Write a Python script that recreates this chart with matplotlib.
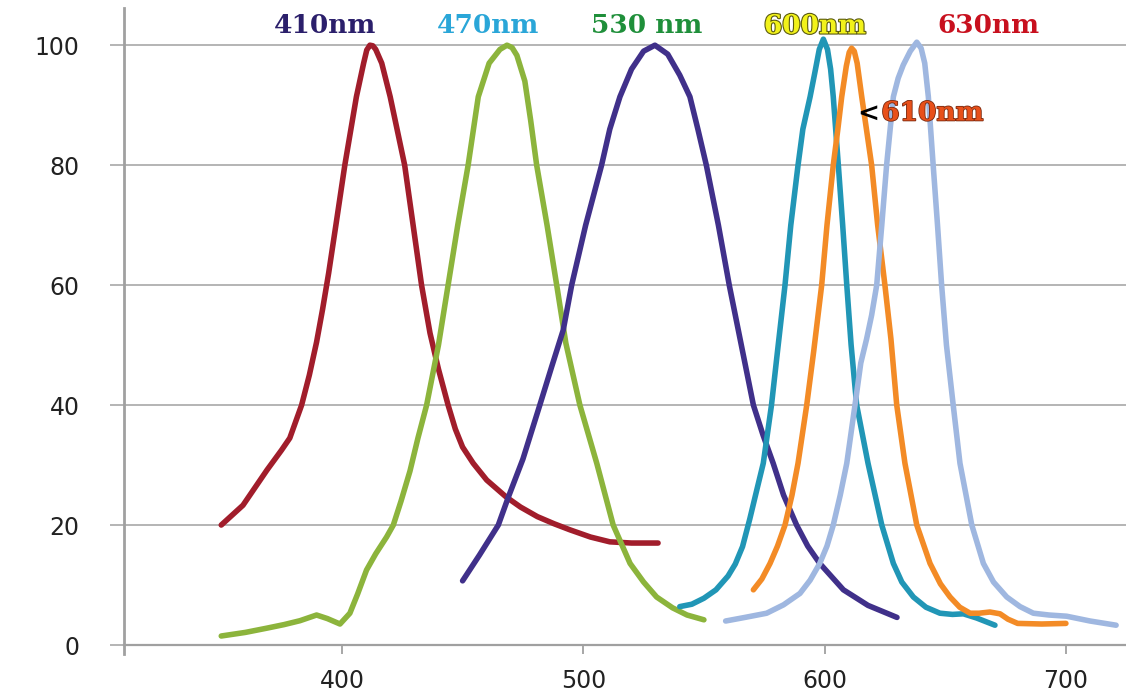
import matplotlib
matplotlib.use("Agg")
import matplotlib.pyplot as plt
import matplotlib.patheffects as pe

# ---- data ----
x_410 = [350, 359, 369, 375, 378.4, 383.3, 386.5, 389.5, 392, 394.5, 397.5, 401.2, 406, 409, 410.3, 411.6,
         412.8, 414, 416.5, 420, 426, 429.5, 433, 436.5, 440, 444, 447, 450, 454.4, 460, 468, 474, 481,
         488, 494.5, 503, 511, 520, 531]
y_410 = [20, 23.3, 29.2, 32.5, 34.5, 40, 45, 50.5, 56, 62, 70, 80, 91.4, 97, 99.2, 100,
         99.9, 99.3, 97, 91.4, 80, 70, 60, 52, 46, 40, 36, 33, 30.3, 27.5, 24.7, 23, 21.4,
         20.2, 19.2, 18, 17.2, 17, 17]

x_470 = [350, 360, 368.8, 376, 382.6, 389.5, 394, 399.2, 403.3, 406.5, 410.2, 414, 418.5, 421.3, 424.5,
         428.2, 431.5, 435.1, 440, 444, 448, 452.3, 456.5, 461, 465.5, 468.4, 470.5, 472.5, 475.8,
         478.2, 480.7, 485, 489, 492.8, 498.6, 505.6, 512.4, 519.4, 525, 530.4, 537, 543, 550]
y_470 = [1.5, 2.1, 2.8, 3.4, 4.05, 5.0, 4.4, 3.5, 5.3, 8.5, 12.5, 15.2, 18, 20, 24,
         29, 34.5, 40, 50, 60, 70, 80, 91.4, 97, 99.3, 100, 99.6, 98.3, 94,
         87.5, 80, 70, 60, 50.3, 40, 30.3, 20, 13.6, 10.5, 8, 6.2, 5.0, 4.2]

x_530 = [450, 457, 464.8, 469, 475, 482, 487, 491.7, 495.2, 501, 507.6, 511, 515.2, 520, 525, 529.7,
         535, 540, 544.2, 547.5, 551, 556, 560.5, 564, 567, 570.5, 574.5, 578.7, 583, 588.4, 593, 598,
         607.8, 618, 630]
y_530 = [10.7, 15, 20, 24.7, 31, 40, 46.5, 52.5, 60, 70, 80, 86, 91.4, 96, 99, 100,
         98.5, 95, 91.4, 86, 80, 70, 60, 53, 47, 40, 35, 30.3, 25, 20, 16.5, 13.6,
         9.2, 6.6, 4.6]

x_600 = [540, 545, 550, 555, 560, 563, 566, 569, 572, 574.6, 578, 580.5, 583.6, 586, 589, 591, 594,
         596, 597.8, 599.5, 601.2, 602.5, 603.6, 605.7, 607.5, 609.2, 611, 613.3, 618, 623.7, 628.5,
         632, 636.8, 642, 647.8, 653, 657.5, 663, 670.6]
y_600 = [6.4, 6.8, 7.8, 9.2, 11.5, 13.5, 16.4, 21, 26, 30.3, 40, 49, 60, 70, 80, 86, 91.4,
         95.5, 99.3, 101, 99.3, 96, 91.4, 80, 70, 60, 50, 40, 30.3, 20, 13.6,
         10.5, 8, 6.3, 5.3, 5.1, 5.2, 4.5, 3.3]

x_610 = [570.5, 574, 577.4, 580.5, 583.6, 586.5, 589, 592.6, 595.5, 598.8, 601, 603.6, 605.5, 607.1,
         609, 610.2, 611.2, 612.3, 613.5, 615.4, 619.5, 622, 625, 627.5, 629.9, 633.3, 638.2, 643.7,
         648, 652, 656, 660.3, 664, 668.5, 672.7, 676, 680, 690, 700]
y_610 = [9.2, 11, 13.6, 16.5, 20, 25, 30.3, 40, 49, 60, 70, 80, 86, 91.4,
         96.5, 98.8, 99.5, 99, 97, 91.4, 80, 70, 60, 51, 40, 30.3, 20, 13.6,
         10.2, 8, 6.3, 5.3, 5.3, 5.5, 5.2, 4.3, 3.6, 3.5, 3.6]

x_630 = [559, 567, 576, 583, 589.8, 594, 598, 601, 603.6, 606.5, 609.2, 612.6, 615, 617.4, 619.5,
         621.6, 623.7, 625.7, 628.5, 630.5, 632.6, 635.5, 638.2, 640, 641.5, 643, 645, 646.8, 648.5,
         650.5, 653.3, 656.1, 661, 665.8, 670, 675.5, 681, 686.5, 693, 700.3, 710, 720.8]
y_630 = [4, 4.6, 5.3, 6.7, 8.6, 10.8, 13.6, 16.5, 20, 25, 30.3, 40, 47, 51, 55,
         60, 70, 80, 91.4, 94.5, 96.7, 99, 100.5, 99.5, 97, 91.4, 80, 70, 60,
         50, 40, 30.3, 20, 13.6, 10.5, 8, 6.4, 5.3, 5, 4.8, 4, 3.3]

x_ticks = [400, 500, 600, 700]
y_ticks = [0, 20, 40, 60, 80, 100]

peak_labels = ["410nm", "470nm", "530 nm", "600nm", "630nm"]
peak_label_x = [393, 460.5, 526.4, 596, 667.7]
peak_label_colors = ["#2b1f6b", "#2aa6d8", "#1f8f3a", "#f2f21a", "#c8101e"]

series = [
    (x_410, y_410, "#a11d2b"),
    (x_470, y_470, "#8cb43c"),
    (x_530, y_530, "#40308a"),
    (x_600, y_600, "#2196b6"),
    (x_610, y_610, "#f38b26"),
    (x_630, y_630, "#9fb7e0"),
]

# ---- figure ----
fig = plt.figure(figsize=(11.26, 6.97), dpi=100)
ax = fig.add_axes([124 / 1126, 1 - 654 / 697, 1 - 124 / 1126, (654 - 8) / 697])

ax.set_xlim(309.7, 724.9)
ax.set_ylim(-1.5, 106.2)

grid_color = "#a0a0a0"
for yv in y_ticks[1:]:
    ax.axhline(yv, color=grid_color, lw=1.1, zorder=1)

for xs, ys, c in series:
    ax.plot(xs, ys, color=c, lw=4.0, solid_capstyle="round", solid_joinstyle="round", zorder=3)

for sp in ["top", "right"]:
    ax.spines[sp].set_visible(False)
ax.spines["left"].set_color(grid_color)
ax.spines["left"].set_linewidth(2.0)
ax.spines["bottom"].set_position(("data", 0))
ax.spines["bottom"].set_color(grid_color)
ax.spines["bottom"].set_linewidth(1.6)

ax.set_xticks(x_ticks)
ax.set_xticklabels([str(v) for v in x_ticks])
ax.set_yticks(y_ticks)
ax.set_yticklabels([str(v) for v in y_ticks])
ax.tick_params(axis="y", length=10, width=1.1, color=grid_color, pad=22,
               labelsize=17, labelcolor="#222222")
ax.tick_params(axis="x", length=6.5, width=1.3, color=grid_color, pad=11,
               labelsize=17, labelcolor="#222222")

label_font = dict(family="DejaVu Serif", fontweight="bold", fontsize=19)
for txt, xv, col in zip(peak_labels, peak_label_x, peak_label_colors):
    t = ax.text(xv, 103.2, txt, color=col, ha="center", va="center", zorder=5, **label_font)
    if txt == "600nm":
        t.set_path_effects([pe.withStroke(linewidth=1.6, foreground="#5a5a10")])

ax.text(613.6, 88.7, "<", color="black", ha="left", va="center", zorder=5, **label_font)
t610 = ax.text(623.5, 88.7, "610nm", color="#e8501a", ha="left", va="center", zorder=5, **label_font)
t610.set_path_effects([pe.withStroke(linewidth=1.2, foreground="#7a2a10")])

fig.savefig("out.png", dpi=100)
